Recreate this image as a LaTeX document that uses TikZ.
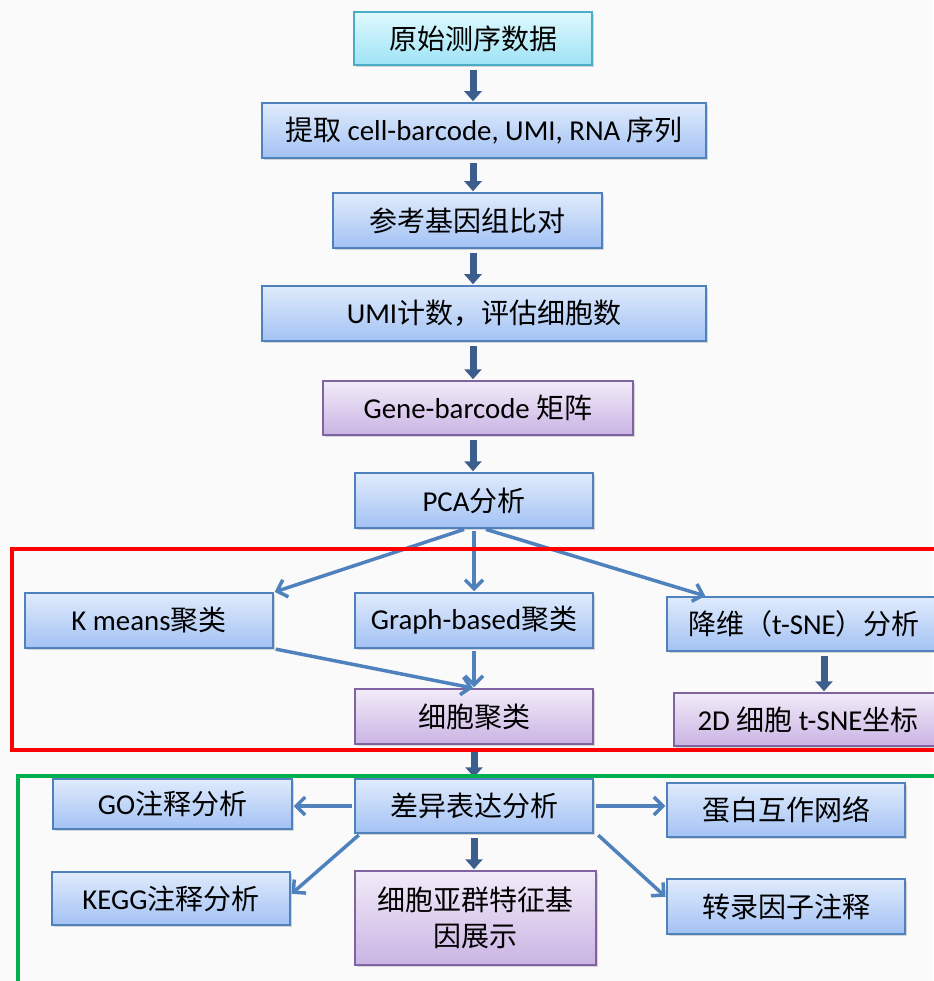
\documentclass[tikz,border=0pt]{standalone}
\usepackage{fontspec}
\setmainfont{Carlito}[Scale=1.03]
\newfontfamily\cjk{Noto Sans CJK SC}
\newcommand\C[1]{{\cjk #1}}
\usetikzlibrary{arrows.meta,shadows}
\definecolor{bgc}{RGB}{250,250,250}
\definecolor{bluetop}{RGB}{224,235,252}
\definecolor{bluebot}{RGB}{163,194,244}
\definecolor{blueline}{RGB}{79,129,189}
\definecolor{purtop}{RGB}{242,235,248}
\definecolor{purbot}{RGB}{202,180,228}
\definecolor{purline}{RGB}{128,100,162}
\definecolor{cyantop}{RGB}{224,249,253}
\definecolor{cyanbot}{RGB}{158,227,246}
\definecolor{cyanline}{RGB}{75,172,198}
\definecolor{darrow}{RGB}{60,94,140}
\definecolor{larrow}{RGB}{79,129,189}
\definecolor{redbox}{RGB}{255,0,0}
\definecolor{greenbox}{RGB}{0,176,80}
\tikzset{
  basebox/.style={line width=1.5pt, inner sep=0pt, align=center,
    font=\fontsize{28}{36}\selectfont,
    drop shadow={shadow xshift=1.5pt,shadow yshift=-2pt,opacity=0.3}},
  bluebox/.style={basebox, draw=blueline, top color=bluetop, bottom color=bluebot},
  purbox/.style={basebox, draw=purline, top color=purtop, bottom color=purbot},
  cyanbox/.style={basebox, draw=cyanline, top color=cyantop, bottom color=cyanbot},
  fatarrow/.style={draw=darrow, line width=7pt, -{Triangle[width=17pt,length=10pt]}, shorten <=4pt, shorten >=1pt},
  thinarrow/.style={draw=larrow, line width=3.5pt, -{Straight Barb[length=9pt,width=18pt]}, shorten <=2pt, shorten >=1pt},
  frame/.style={line width=4pt}
}
\begin{document}
\begin{tikzpicture}[x=1pt,y=-1pt]
\fill[bgc] (0,0) rectangle (933,981);
\useasboundingbox (0,0) rectangle (933,981);

\node[cyanbox, minimum width=238pt, minimum height=53pt] (n1) at (473,38.5) {\C{原始测序数据}};
\node[bluebox, minimum width=444pt, minimum height=55pt] (n2) at (484,130.5) {\C{提取} cell-barcode, UMI, RNA \C{序列}};
\node[bluebox, minimum width=269pt, minimum height=55pt] (n3) at (467.5,220.5) {\C{参考基因组比对}};
\node[bluebox, minimum width=444pt, minimum height=55pt] (n4) at (484,313.5) {UMI\C{计数，评估细胞数}};
\node[purbox, minimum width=310pt, minimum height=54pt] (n5) at (478,408) {Gene-barcode \C{矩阵}};
\node[bluebox, minimum width=238pt, minimum height=55pt] (n6) at (474,500.5) {PCA\C{分析}};
\node[bluebox, minimum width=248pt, minimum height=55pt] (n7) at (149,620.5) {K means\C{聚类}};
\node[bluebox, minimum width=238pt, minimum height=55pt] (n8) at (474,620.5) {Graph-based\C{聚类}};
\node[bluebox, minimum width=274pt, minimum height=54pt] (n9) at (804,624) {\C{降维（}t-SNE\C{）分析}};
\node[purbox, minimum width=238pt, minimum height=55pt] (n10) at (474,716.5) {\C{细胞聚类}};
\node[purbox, minimum width=268pt, minimum height=53pt] (n11) at (808,719.5) {2D \C{细胞} t-SNE\C{坐标}};
\node[bluebox, minimum width=238pt, minimum height=54pt] (n12) at (474,806) {\C{差异表达分析}};
\node[bluebox, minimum width=239pt, minimum height=50pt] (n13) at (172.5,804) {GO\C{注释分析}};
\node[bluebox, minimum width=238pt, minimum height=53pt] (n14) at (171,898.5) {KEGG\C{注释分析}};
\node[purbox, minimum width=241pt, minimum height=94pt] (n15) at (475.5,918) {\C{细胞亚群特征基}\\\C{因展示}};
\node[bluebox, minimum width=238pt, minimum height=54pt] (n16) at (786,810) {\C{蛋白互作网络}};
\node[bluebox, minimum width=238pt, minimum height=55pt] (n17) at (786,906.5) {\C{转录因子注释}};

% thick arrows
\draw[fatarrow] (n1.south) -- (n2.north -| n1.south);
\draw[fatarrow] (n2.south -| n1.south) -- (n3.north -| n1.south);
\draw[fatarrow] (n3.south -| n1.south) -- (n4.north -| n1.south);
\draw[fatarrow] (n4.south -| n1.south) -- (n5.north -| n1.south);
\draw[fatarrow] (n5.south -| n1.south) -- (n6.north -| n1.south);
\draw[fatarrow] ([xshift=20pt]n9.south) -- ([xshift=20pt]n9.south |- n11.north);
\draw[fatarrow] (n10.south) -- (n12.north);
\draw[fatarrow] (n12.south) -- (n12.south |- n15.north);

% thin arrows
\draw[thinarrow] ([xshift=-8pt]n6.south) -- (n7.north east);
\draw[thinarrow] (n6.south) -- (n8.north);
\draw[thinarrow] ([xshift=10pt]n6.south) -- ([xshift=40pt]n9.north west);
\draw[thinarrow] (n7.south east) -- (n10.north);
\draw[thinarrow] (n8.south) -- (n10.north);
\draw[thinarrow] (n12.west) -- (n12.west -| n13.east);
\draw[thinarrow] ([xshift=6pt]n12.south west) -- ([yshift=4pt]n14.east);
\draw[thinarrow] (n12.east) -- (n12.east -| n16.west);
\draw[thinarrow] ([xshift=3pt]n12.south east) -- ([yshift=9pt]n17.west);

% frames
\draw[frame, redbox] (12,549) rectangle (945,750);
\draw[frame, greenbox] (18,776) rectangle (945,1000);
\end{tikzpicture}
\end{document}
